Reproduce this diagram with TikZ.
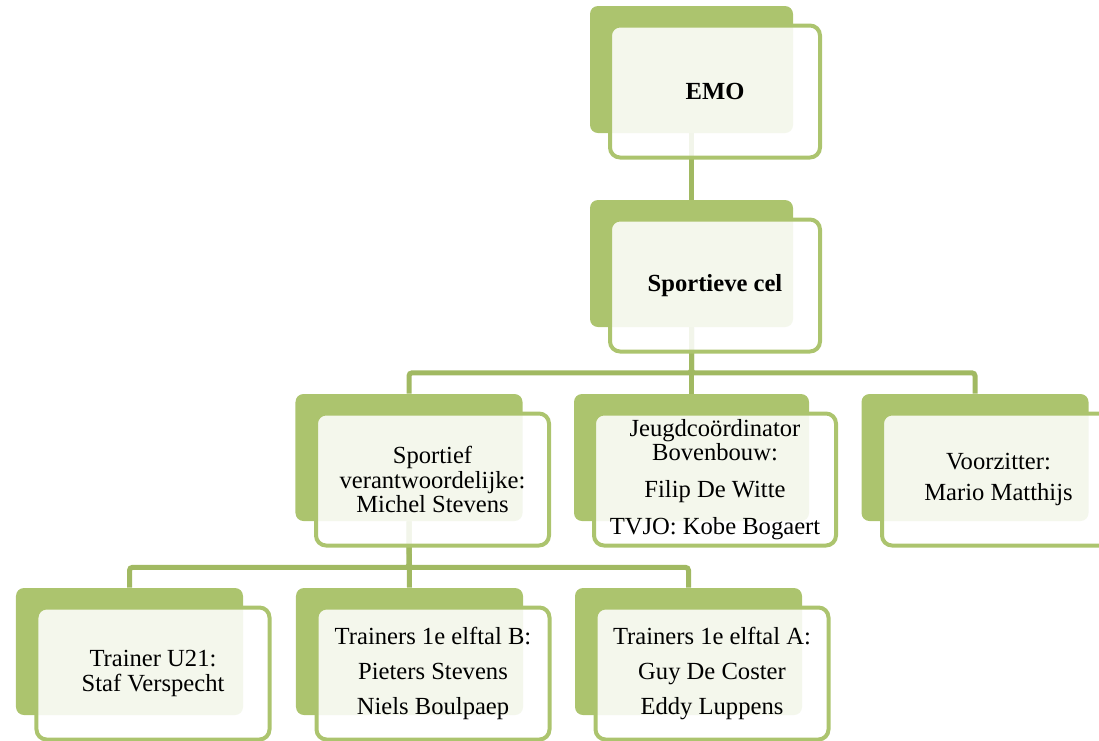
\documentclass[tikz,border=0pt]{standalone}
\usepackage{fontspec}
\setmainfont{Liberation Serif}
\usepackage{tikz}
\usepackage{xcolor}
\definecolor{boxgreen}{RGB}{172,196,110}
\definecolor{linegreen}{RGB}{161,185,98}

\begin{document}
\begin{tikzpicture}[x=0.2mm, y=-0.2mm,
    back/.style={rounded corners=1.6mm, fill=boxgreen, minimum height=25.4mm, minimum width=45.4mm, inner sep=0pt},
    front/.style={rounded corners=2mm, draw=boxgreen, line width=0.8mm, fill=white, fill opacity=0.87, text opacity=1,
      minimum height=26.4mm, minimum width=46.6mm, inner sep=0pt, align=center, xshift=4.7mm, yshift=-4.4mm,
      font=\fontsize{14}{14}\selectfont},
    link/.style={draw=linegreen, line width=1mm, rounded corners=0.6mm}]
        \useasboundingbox (0,0) rectangle (1099,741);
        % back boxes
        \node[back, minimum width=40.6mm] at (691.5,69.5) (emoback) {};
        \node[back, minimum width=40.6mm] at (691.5,263.5) (celback) {};
        \node[back] at (409,457.5) (sportback) {};
        \node[back, minimum width=47mm] at (691.5,457.5) (jeugdback) {};
        \node[back] at (975,457.5) (voorzback) {};
        \node[back] at (129.5,651.5) (u21back) {};
        \node[back] at (409.5,651.5) (trbback) {};
        \node[back] at (688.5,651.5) (traback) {};
        % connectors
        \draw[link] (emoback.south) -- (celback.north);
        \draw[link] (celback.south) -- (jeugdback.north);
        \draw[link] (celback.south) -- ++(0,45.5) -| (sportback.north);
        \draw[link] (celback.south) -- ++(0,45.5) -| (voorzback.north);
        \draw[link] (sportback.south) -- (trbback.north);
        \draw[link] (sportback.south) -- ++(0,46) -| (u21back.north);
        \draw[link] (sportback.south) -- ++(0,46) -| (traback.north);
        % text boxes
        \node[front, minimum width=42mm] at (emoback) (emo) {\textbf{EMO}};
        \node[front, minimum width=42mm] at (celback) (cel) {\textbf{Sportieve cel}};
        \node[front] at (sportback) (sport) {Sportief\\verantwoordelijke:\\Michel Stevens};
        \node[front, minimum width=48.4mm] at (jeugdback) (jeugd) {Jeugdcoördinator\\Bovenbouw:\\[7pt]Filip De Witte\\[7pt]TVJO: Kobe Bogaert};
        \node[front] at (voorzback) (voorz) {Voorzitter:\\[4pt]Mario Matthijs};
        \node[front] at (u21back) (u21) {Trainer U21:\\Staf Verspecht};
        \node[front] at (trbback) (trb) {Trainers 1e elftal B:\\[6pt]Pieters Stevens\\[6pt]Niels Boulpaep};
        \node[front] at (traback) (tra) {Trainers 1e elftal A:\\[6pt]Guy De Coster\\[6pt]Eddy Luppens};
\end{tikzpicture}
\end{document}
